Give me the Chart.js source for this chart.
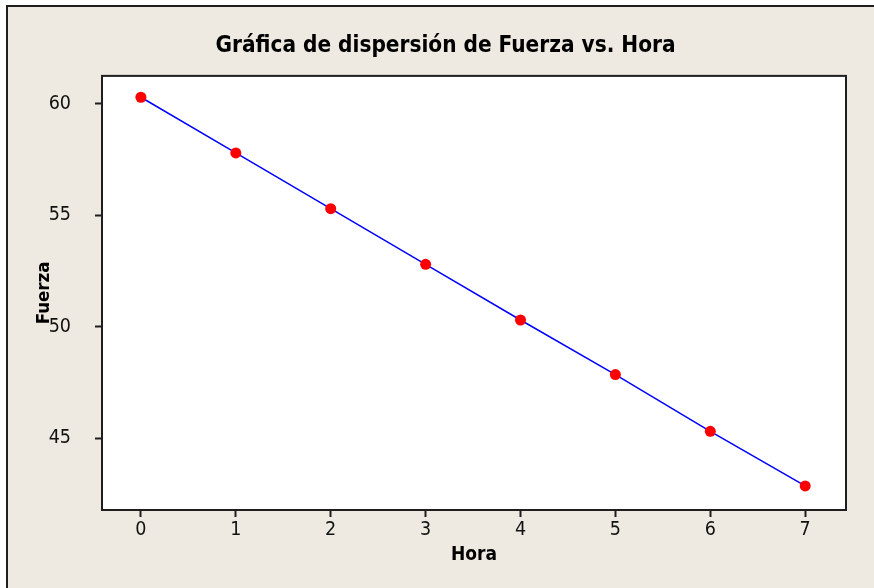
<!DOCTYPE html>
<html>
<head>
<meta charset="utf-8">
<script src="https://cdn.jsdelivr.net/npm/chart.js@4/dist/chart.umd.min.js"></script>
<style>
  html, body { margin: 0; padding: 0; background: #ffffff; overflow: hidden; width: 874px; height: 588px; }
  #frame { position: absolute; left: 6px; top: 5px; width: 900px; height: 600px; background: #EEEAE1; border: 2px solid #1e1e1e; box-sizing: border-box; }
  #wrap { position: absolute; left: 0; top: 0; width: 874px; height: 588px; }
</style>
</head>
<body>
<div id="frame"></div>
<div id="wrap"><canvas id="c" width="874" height="588"></canvas></div>
<script>
const titleText = 'Gráfica de dispersión de Fuerza vs. Hora';
const xLabel = 'Hora';
const yLabel = 'Fuerza';
const hora = [0, 1, 2, 3, 4, 5, 6, 7];
const fuerza = [60.3, 57.8, 55.3, 52.8, 50.3, 47.85, 45.3, 42.85];
const xTicks = [0, 1, 2, 3, 4, 5, 6, 7];
const yTicks = [45, 50, 55, 60];

const FONT = "'DejaVu Sans Condensed', 'DejaVu Sans', sans-serif";
const INK = '#1e1e1e';

const plotFrame = {
  id: 'plotFrame',
  beforeDraw(chart) {
    const {ctx, chartArea: a} = chart;
    ctx.save();
    ctx.fillStyle = '#ffffff';
    ctx.fillRect(a.left, a.top, a.right - a.left, a.bottom - a.top);
    ctx.restore();
  },
  beforeDatasetsDraw(chart) {
    const {ctx, chartArea: a} = chart;
    ctx.save();
    ctx.strokeStyle = INK;
    ctx.lineWidth = 2;
    ctx.strokeRect(a.left, a.top, a.right - a.left, a.bottom - a.top);
    ctx.restore();
  }
};

new Chart(document.getElementById('c'), {
  type: 'scatter',
  data: {
    datasets: [{
      data: hora.map((h, i) => ({x: h, y: fuerza[i]})),
      showLine: true,
      borderColor: '#0000ff',
      borderWidth: 1.5,
      pointRadius: 5.5,
      pointBackgroundColor: '#ff0000',
      pointBorderWidth: 0,
      pointBorderColor: '#ff0000'
    }]
  },
  options: {
    responsive: false,
    animation: false,
    devicePixelRatio: 1,
    layout: { padding: { left: 45, right: 28, top: 0, bottom: 0 } },
    plugins: {
      legend: { display: false },
      tooltip: { enabled: false },
      title: {
        display: true,
        text: titleText,
        color: '#000',
        font: { family: FONT, size: 22.4, weight: 'bold' },
        padding: { top: 33, bottom: 16 }
      }
    },
    scales: {
      x: {
        type: 'linear',
        min: -0.41,
        max: 7.43,
        afterBuildTicks: s => { s.ticks = xTicks.map(v => ({value: v})); },
        afterFit: s => { s.height = 78; },
        grid: { drawOnChartArea: false, drawTicks: true, tickLength: 7, tickWidth: 2, tickColor: INK },
        border: { display: true, color: INK, width: 2 },
        ticks: { color: '#111', font: { family: FONT, size: 19.5 }, padding: 1.5 },
        title: { display: true, text: xLabel, color: '#000', font: { family: FONT, size: 19, weight: 'bold' }, padding: { top: 0, bottom: 22 } }
      },
      y: {
        type: 'linear',
        min: 41.77,
        max: 61.26,
        afterBuildTicks: s => { s.ticks = yTicks.map(v => ({value: v})); },
        afterFit: s => { s.width = 57; },
        grid: { drawOnChartArea: false, drawTicks: true, tickLength: 7, tickWidth: 2, tickColor: INK },
        border: { display: true, color: INK, width: 2 },
        ticks: { color: '#111', font: { family: FONT, size: 19.5 }, padding: 24 },
        title: { display: true, text: yLabel, color: '#000', font: { family: FONT, size: 18.5, weight: 'bold' }, padding: { top: -12.1, bottom: 0 } }
      }
    }
  },
  plugins: [plotFrame]
});
</script>
</body>
</html>
